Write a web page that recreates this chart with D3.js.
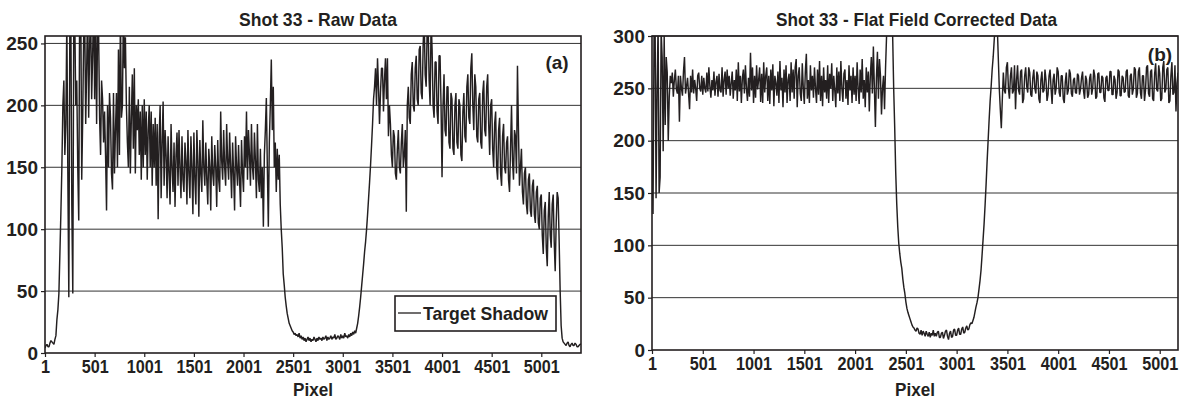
<!DOCTYPE html>
<html>
<head>
<meta charset="utf-8">
<script src="https://cdn.jsdelivr.net/npm/d3@7"></script>
<style>
  body { margin: 0; background: #fff; }
  svg text { font-family: "Liberation Sans", Arial, sans-serif; font-weight: bold; fill: #231f20; }
  .x-axis .tick text { transform-box: fill-box; transform-origin: center; transform: scaleX(0.9); }
</style>
</head>
<body>
<svg id="chart" width="1185" height="403"></svg>
<script>
// Pixel ticks shared by both panels
const xTickValues = [1, 501, 1001, 1501, 2001, 2501, 3001, 3501, 4001, 4501, 5001];
const rawTicks = [0, 50, 100, 150, 200, 250];
const corrTicks = [0, 50, 100, 150, 200, 250, 300];

// samples are every 10 pixels starting at pixel 1
const sampleStart = 1, sampleStep = 10;

// (a) raw data (one row = 100 pixels)
const rawValues = [
  4, 6, 7, 5, 5, 8, 10, 9, 8, 7,
  11, 14, 27, 35, 48, 80, 113, 150, 200, 220,
  160, 185, 270, 145, 45, 260, 280, 120, 48, 275,
  270, 200, 220, 150, 107, 300, 290, 140, 190, 260,
  270, 185, 230, 285, 190, 250, 275, 205, 240, 290,
  205, 270, 185, 265, 260, 190, 160, 220, 205, 170,
  195, 160, 115, 200, 150, 210, 190, 145, 132, 210,
  145, 180, 210, 150, 245, 160, 275, 190, 200, 280,
  230, 255, 200, 170, 150, 215, 145, 190, 225, 165,
  230, 145, 200, 180, 205, 160, 195, 140, 200, 150,
  205, 160, 195, 140, 180, 200, 150, 195, 135, 185,
  150, 190, 135, 185, 108, 175, 200, 125, 170, 203,
  135, 180, 160, 125, 175, 145, 120, 185, 150, 130,
  170, 118, 160, 178, 135, 180, 150, 125, 175, 140,
  130, 170, 155, 120, 180, 145, 125, 175, 150, 112,
  178, 140, 120, 180, 155, 110, 172, 145, 130, 188,
  150, 135, 170, 140, 120, 165, 150, 115, 175, 145,
  135, 168, 150, 118, 172, 140, 130, 195, 155, 140,
  180, 150, 135, 185, 155, 140, 178, 150, 125, 170,
  145, 115, 175, 150, 135, 168, 140, 118, 172, 145,
  130, 175, 150, 195, 140, 180, 160, 135, 185, 150,
  140, 178, 155, 125, 185, 140, 130, 165, 125, 150,
  102, 160, 180, 206, 150, 102, 170, 200, 237, 180,
  215, 150, 170, 130, 165, 140, 160, 120, 100, 85,
  64, 55, 45, 38, 32, 28, 24, 22, 20, 18,
  17, 15, 16, 14, 15, 13, 16, 12, 14, 11,
  13, 10, 12, 9, 11, 13, 10, 12, 9, 11,
  10, 13, 11, 9, 12, 10, 13, 11, 12, 10,
  13, 11, 12, 14, 10, 13, 11, 12, 14, 11,
  13, 12, 15, 11, 12, 14, 13, 11, 15, 12,
  14, 12, 16, 13, 14, 12, 15, 13, 16, 14,
  17, 15, 18, 16, 20, 24, 30, 37, 45, 54,
  63, 72, 82, 90, 100, 112, 125, 138, 152, 168,
  185, 205, 215, 230, 200, 238, 215, 185, 210, 230,
  230, 195, 220, 238, 205, 238, 175, 200, 185, 160,
  150, 180, 175, 145, 140, 165, 180, 150, 145, 170,
  185, 150, 160, 180, 114, 200, 215, 190, 185, 225,
  235, 200, 195, 230, 240, 205, 200, 245, 248, 210,
  205, 250, 270, 225, 215, 260, 265, 220, 200, 270,
  245, 200, 190, 235, 235, 195, 185, 240, 240, 200,
  142, 200, 225, 180, 175, 215, 215, 170, 165, 210,
  205, 165, 160, 200, 210, 170, 165, 205, 200, 160,
  155, 195, 210, 175, 170, 215, 225, 190, 185, 230,
  242, 200, 180, 225, 215, 175, 170, 205, 210, 170,
  165, 210, 220, 180, 175, 215, 225, 185, 160, 200,
  205, 165, 150, 185, 195, 150, 140, 180, 190, 145,
  135, 175, 185, 150, 145, 170, 175, 140, 130, 165,
  200, 155, 140, 180, 175, 145, 232, 180, 135, 150,
  165, 130, 120, 145, 150, 120, 112, 140, 145, 115,
  110, 135, 140, 112, 105, 130, 135, 105, 100, 125,
  128, 95, 80, 115, 122, 85, 70, 110, 130, 95,
  85, 120, 128, 90, 66, 105, 130, 125, 90, 50,
  22, 12, 9, 8, 7, 6, 8, 9, 6, 5,
  7, 8, 6, 6, 8, 7, 5, 5, 6, 7,
  7
];

// (b) flat field corrected data
const corrValues = [
  200, 130, 300, 320, 145, 250, 310, 150, 165, 305,
  280, 190, 300, 215, 280, 265, 200, 242, 262, 255,
  265, 242, 258, 268, 249, 245, 262, 218, 262, 250,
  243, 266, 280, 245, 252, 260, 245, 230, 262, 246,
  268, 245, 258, 250, 238, 262, 265, 250, 247, 262,
  244, 260, 250, 246, 265, 247, 270, 252, 241, 258,
  248, 266, 243, 256, 262, 242, 264, 248, 246, 270,
  242, 258, 266, 244, 268, 250, 262, 243, 255, 266,
  240, 258, 248, 268, 238, 275, 247, 262, 236, 260,
  268, 245, 272, 250, 238, 260, 242, 284, 248, 270,
  236, 262, 241, 272, 249, 258, 270, 237, 264, 236,
  275, 246, 262, 270, 238, 262, 235, 268, 248, 273,
  233, 262, 255, 243, 266, 236, 276, 248, 260, 232,
  268, 246, 272, 236, 258, 264, 238, 275, 246, 268,
  240, 270, 278, 232, 262, 270, 245, 238, 274, 250,
  235, 266, 283, 240, 258, 236, 272, 248, 262, 241,
  270, 250, 236, 268, 244, 276, 238, 262, 233, 270,
  246, 258, 240, 272, 236, 264, 250, 274, 238, 262,
  248, 232, 270, 245, 266, 238, 276, 250, 237, 264,
  268, 240, 258, 234, 272, 248, 262, 236, 270, 244,
  262, 238, 275, 250, 235, 268, 246, 278, 240, 258,
  232, 270, 246, 266, 228, 262, 280, 245, 290, 250,
  213, 260, 285, 240, 278, 262, 225, 250, 262, 230,
  270, 300, 320, 310, 325, 305, 315, 300, 250, 213,
  170, 140, 118, 102, 92, 84, 78, 68, 60, 54,
  46, 40, 36, 33, 30, 27, 24, 22, 21, 19,
  18, 21, 20, 16, 15, 19, 14, 18, 16, 13,
  18, 15, 13, 17, 12, 16, 14, 19, 13, 16,
  13, 17, 18, 12, 12, 16, 17, 11, 14, 18,
  19, 13, 10, 16, 18, 12, 13, 19, 20, 14,
  14, 19, 21, 15, 15, 20, 22, 16, 17, 21,
  23, 19, 20, 24, 26, 25, 28, 31, 36, 41,
  45, 50, 58, 66, 76, 90, 105, 120, 138, 158,
  180, 200, 220, 238, 252, 268, 280, 296, 310, 320,
  310, 280, 250, 230, 212, 240, 265, 248, 245, 270,
  275, 250, 240, 262, 270, 245, 248, 272, 230, 258,
  272, 248, 244, 266, 268, 236, 240, 262, 270, 252,
  246, 270, 265, 244, 242, 260, 268, 250, 245, 266,
  262, 240, 236, 258, 266, 246, 248, 268, 258, 238,
  244, 262, 268, 250, 235, 258, 264, 244, 250, 270,
  266, 246, 242, 262, 262, 240, 236, 256, 265, 244,
  248, 268, 264, 245, 242, 258, 260, 246, 245, 264,
  262, 244, 249, 260, 266, 247, 240, 262, 258, 241,
  244, 260, 264, 244, 250, 268, 262, 240, 242, 264,
  265, 246, 246, 262, 260, 241, 237, 260, 262, 248,
  248, 266, 266, 244, 244, 262, 258, 240, 246, 268,
  266, 243, 243, 262, 260, 246, 247, 266, 268, 243,
  241, 262, 264, 244, 249, 270, 268, 241, 245, 266,
  270, 246, 240, 262, 262, 238, 248, 270, 272, 245,
  242, 266, 268, 240, 238, 264, 274, 249, 247, 272,
  264, 238, 240, 270, 276, 246, 249, 268, 270, 236,
  238, 262, 275, 244, 246, 272, 228, 255, 265
];

const svg = d3.select("#chart");
const ink = "#231f20";

function drawPanel(p) {
  let x = d3.scaleLinear().domain([1, p.xMax]).range([p.left, p.right]);
  let y = d3.scaleLinear().domain([0, p.yMax]).range([p.bottom, p.top]);

  let g = svg.append("g");

  // horizontal grid lines
  g.selectAll(".grid")
    .data(p.yTicks.filter(d => d > 0))
    .enter().append("line")
    .attr("x1", p.left).attr("x2", p.right)
    .attr("y1", d => y(d)).attr("y2", d => y(d))
    .attr("stroke", "#333").attr("stroke-width", 1);

  // clip the trace to the plot box
  svg.append("clipPath").attr("id", p.id + "-clip")
    .append("rect")
    .attr("x", p.left).attr("y", p.top)
    .attr("width", p.right - p.left).attr("height", p.bottom - p.top);

  let valueline = d3.line()
    .x(function(d, i) { return x(sampleStart + i * sampleStep); })
    .y(function(d) { return y(d); });

  g.append("path")
    .datum(p.values)
    .attr("clip-path", "url(#" + p.id + "-clip)")
    .attr("fill", "none")
    .attr("stroke", ink)
    .attr("stroke-width", 1.45)
    .attr("stroke-linejoin", "bevel")
    .attr("d", valueline);

  // frame
  g.append("rect")
    .attr("x", p.left).attr("y", p.top)
    .attr("width", p.right - p.left).attr("height", p.bottom - p.top)
    .attr("fill", "none").attr("stroke", ink).attr("stroke-width", 1.6);

  // axes
  let xAxis = g.append("g")
    .attr("class", "x-axis")
    .attr("transform", "translate(0," + p.bottom + ")")
    .call(d3.axisBottom(x).tickValues(xTickValues).tickFormat(d3.format("d"))
      .tickSize(4).tickPadding(3));
  let yAxis = g.append("g")
    .attr("class", "y-axis")
    .attr("transform", "translate(" + p.left + ",0)")
    .call(d3.axisLeft(y).tickValues(p.yTicks).tickFormat(d3.format("d"))
      .tickSize(4).tickPadding(3));
  [xAxis, yAxis].forEach(a => {
    a.select(".domain").remove();
    a.selectAll(".tick line").attr("stroke", ink).attr("stroke-width", 1.2);
    a.selectAll(".tick text").attr("fill", ink).attr("font-family", null);
  });
  xAxis.selectAll(".tick text").attr("font-size", 18);
  yAxis.selectAll(".tick text").attr("font-size", 19);

  // title
  g.append("text")
    .attr("x", (p.titleX0 + p.titleX1) / 2).attr("y", 26)
    .attr("text-anchor", "middle")
    .attr("font-size", 19)
    .attr("textLength", p.titleX1 - p.titleX0)
    .attr("lengthAdjust", "spacingAndGlyphs")
    .text(p.title);

  // axis title
  g.append("text")
    .attr("x", (p.left + p.right) / 2).attr("y", 396)
    .attr("text-anchor", "middle")
    .attr("font-size", 18)
    .attr("textLength", 40)
    .attr("lengthAdjust", "spacingAndGlyphs")
    .text("Pixel");

  // panel tag
  g.append("text")
    .attr("x", p.tagX).attr("y", p.tagY)
    .attr("text-anchor", "middle")
    .attr("font-size", 19)
    .text(p.tag);

  return {x: x, y: y, g: g};
}

let a = drawPanel({
  id: "raw", values: rawValues, xMax: 5401, yMax: 256, yTicks: rawTicks,
  left: 45, right: 581, top: 36, bottom: 353,
  title: "Shot 33 - Raw Data", titleX0: 239, titleX1: 397,
  tag: "(a)", tagX: 557, tagY: 69
});

drawPanel({
  id: "corr", values: corrValues, xMax: 5181, yMax: 300, yTicks: corrTicks,
  left: 652, right: 1178, top: 36, bottom: 350,
  title: "Shot 33 - Flat Field Corrected Data", titleX0: 776, titleX1: 1057,
  tag: "(b)", tagX: 1160, tagY: 61
});

// legend in panel (a)
let legend = a.g.append("g");
legend.append("rect")
  .attr("x", 395).attr("y", 296).attr("width", 161).attr("height", 35)
  .attr("fill", "#fff").attr("stroke", ink).attr("stroke-width", 1.6);
legend.append("line")
  .attr("x1", 398).attr("x2", 421).attr("y1", 313).attr("y2", 313)
  .attr("stroke", ink).attr("stroke-width", 1.3);
legend.append("text")
  .attr("x", 423).attr("y", 320)
  .attr("font-size", 19)
  .attr("textLength", 125)
  .attr("lengthAdjust", "spacingAndGlyphs")
  .text("Target Shadow");
</script>
</body>
</html>
